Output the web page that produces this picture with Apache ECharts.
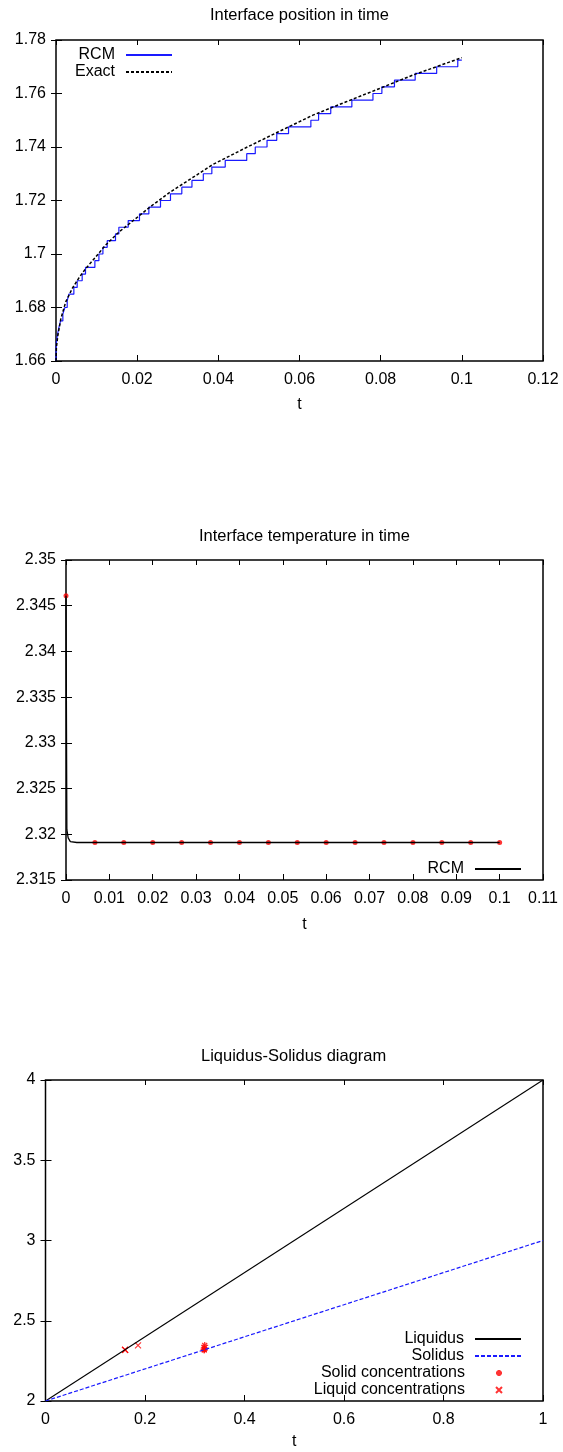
<!DOCTYPE html>
<html>
<head>
<meta charset="utf-8">
<title>Interface position, temperature and Liquidus-Solidus diagram</title>
<script src="https://cdn.jsdelivr.net/npm/echarts@6/dist/echarts.min.js"></script>
<style>
  html, body { margin: 0; padding: 0; background: #fff; }
  .chart { width: 563px; height: 484px; }
</style>
</head>
<body>
<div id="posChart" class="chart"></div>
<div id="tempChart" class="chart"></div>
<div id="phaseChart" class="chart"></div>
<script>
// chart 1: interface position (RCM staircase + exact curve)
const rcmT = [0, 0.00003, 0.00005, 0.00013, 0.00038, 0.00071, 0.00112, 0.00169, 0.00218, 0.00276,
  0.00317, 0.0044, 0.00522, 0.00645, 0.00727, 0.00958, 0.01057, 0.01156, 0.01262, 0.01466,
  0.01549, 0.01779, 0.02057, 0.02288, 0.02575, 0.02821, 0.0310, 0.0335, 0.0363, 0.0384,
  0.0417, 0.0470, 0.0491, 0.0520, 0.0544, 0.0573, 0.0628, 0.0647, 0.0677, 0.0729,
  0.0781, 0.0803, 0.0834, 0.0885, 0.0938, 0.0990, 0.1]
const rcmPos = [1.66, 1.6625, 1.665, 1.6675, 1.67, 1.6725, 1.675, 1.6775, 1.68, 1.6825,
  1.685, 1.6875, 1.69, 1.6925, 1.695, 1.6975, 1.70, 1.7025, 1.705, 1.7075,
  1.71, 1.7125, 1.715, 1.7175, 1.72, 1.7225, 1.725, 1.7275, 1.73, 1.7325,
  1.735, 1.7375, 1.74, 1.7425, 1.745, 1.7475, 1.75, 1.7525, 1.755, 1.7575,
  1.76, 1.7625, 1.765, 1.7675, 1.77, 1.7725, 1.7725]
const exactT = [0, 0.0001, 0.0004, 0.0012, 0.0024, 0.004, 0.0057, 0.0073, 0.0098, 0.0122,
  0.0155, 0.0196, 0.0237, 0.0282, 0.0387, 0.0469, 0.0547, 0.0633, 0.0715, 0.0796, 0.0878, 0.1]
const exactPos = [1.66, 1.665, 1.669, 1.6758, 1.6821, 1.6871, 1.6912, 1.6945, 1.6989, 1.7033,
  1.7082, 1.7132, 1.7182, 1.7232, 1.7335, 1.7398, 1.7456, 1.7519, 1.7569, 1.7618, 1.7668, 1.7734]

// chart 2: interface temperature
const tempLineT = [0, 0.0002, 0.0005, 0.001, 0.0025, 0.1]
const tempLine = [2.3461, 2.3205, 2.3196, 2.3192, 2.3191, 2.3191]
const dotT = [0, 0.00667, 0.01333, 0.02, 0.02667, 0.03333, 0.04, 0.04667,
  0.05333, 0.06, 0.06667, 0.07333, 0.08, 0.08667, 0.09333, 0.1]
const dotTemp = [2.3461, 2.3191, 2.3191, 2.3191, 2.3191, 2.3191, 2.3191, 2.3191,
  2.3191, 2.3191, 2.3191, 2.3191, 2.3191, 2.3191, 2.3191, 2.3191]

// chart 3: liquidus-solidus diagram
const liquidusX = [0, 1]
const liquidusY = [2, 4]
const solidusX = [0, 1]
const solidusY = [2, 3]
const solidConcX = [0.319, 0.319, 0.319, 0.320]
const solidConcY = [2.3191, 2.3191, 2.33, 2.3461]
const liquidConcX = [0.160, 0.160, 0.160, 0.186]
const liquidConcY = [2.3191, 2.3191, 2.3191, 2.3461]

const FONT = 'Liberation Sans'
const ASTERISK = 'path://M5,0L5,10M0,5L10,5M1.5,1.5L8.5,8.5M8.5,1.5L1.5,8.5'
const CROSS = 'path://M0,0L10,10M10,0L0,10'

const pairs = (xs, ys) => xs.map((x, i) => [x, ys[i]])

const valueAxis = (min, max, interval, margin) => ({
  type: 'value',
  min, max, interval,
  splitLine: { show: false },
  axisLine: { show: false },
  axisTick: { inside: true, length: 6, lineStyle: { color: '#000', width: 1 } },
  axisLabel: { color: '#000', fontSize: 16, fontFamily: FONT, margin }
})

const mirrorAxis = (axis, position) => ({
  ...axis,
  position,
  name: '',
  axisLabel: { show: false },
  axisTick: { ...axis.axisTick, length: 5 }
})

const buildAxes = (x, y, nameGap) => {
  const xBottom = {
    ...valueAxis(x[0], x[1], x[2], 11),
    position: 'bottom',
    name: 't',
    nameLocation: 'middle',
    nameGap,
    nameTextStyle: { color: '#000', fontSize: 16, fontFamily: FONT }
  }
  const yLeft = { ...valueAxis(y[0], y[1], y[2], 10), position: 'left' }
  return {
    xAxis: [xBottom, mirrorAxis(xBottom, 'top')],
    yAxis: [yLeft, mirrorAxis(yLeft, 'right')]
  }
}

const gridBox = (left, top, width, height) => ({
  left, top, width, height,
  show: true,
  borderColor: '#000',
  borderWidth: 1.5,
  backgroundColor: 'transparent',
  outerBoundsMode: 'none'
})

const titleBox = (text, left, top) => ({
  text, left, top,
  padding: 0,
  textStyle: { color: '#000', fontSize: 16.5, fontWeight: 'normal', fontFamily: FONT }
})

// one legend per row so the keys line up on the right like gnuplot's
const legendRow = (name, right, top, opts = {}) => ({
  data: [name],
  right, top,
  orient: 'horizontal',
  align: 'right',
  padding: 0,
  itemWidth: opts.itemWidth || 46,
  itemHeight: opts.itemHeight || 16,
  selectedMode: false,
  textStyle: {
    color: '#000', fontSize: 16, fontFamily: FONT, lineHeight: 16,
    padding: [0, opts.gap || 6, 0, 0]
  }
})

const noSymbol = { color: 'transparent', borderColor: 'transparent' }

const posChart = echarts.init(document.getElementById('posChart'))
posChart.setOption({
  animation: false,
  title: titleBox('Interface position in time', 210, 7),
  grid: gridBox(56, 40, 487, 321),
  ...buildAxes([0, 0.12, 0.02], [1.66, 1.78, 0.02], 36),
  legend: [
    legendRow('RCM', 390, 47),
    legendRow('Exact', 390, 64)
  ],
  series: [
    {
      name: 'RCM',
      type: 'line',
      step: 'end',
      symbol: 'none',
      data: pairs(rcmT, rcmPos),
      itemStyle: noSymbol,
      lineStyle: { color: '#1a1aff', width: 1.2 }
    },
    {
      name: 'Exact',
      type: 'line',
      symbol: 'none',
      data: pairs(exactT, exactPos),
      itemStyle: noSymbol,
      lineStyle: { color: '#000', width: 1.5, type: [3, 2] }
    }
  ]
})

const tempChart = echarts.init(document.getElementById('tempChart'))
tempChart.setOption({
  animation: false,
  title: titleBox('Interface temperature in time', 199, 44),
  grid: gridBox(66, 76, 477, 320),
  ...buildAxes([0, 0.11, 0.01], [2.315, 2.35, 0.005], 37),
  legend: [legendRow('RCM', 41, 377)],
  series: [
    {
      name: 'RCM',
      type: 'line',
      symbol: 'none',
      data: pairs(tempLineT, tempLine),
      itemStyle: noSymbol,
      lineStyle: { color: '#000', width: 1.3 }
    },
    {
      name: 'points',
      type: 'scatter',
      clip: false,
      symbol: 'circle',
      symbolSize: 5,
      data: pairs(dotT, dotTemp),
      itemStyle: { color: '#ff0000' }
    }
  ]
})

const phaseChart = echarts.init(document.getElementById('phaseChart'))
phaseChart.setOption({
  animation: false,
  title: titleBox('Liquidus-Solidus diagram', 201, 80),
  grid: gridBox(45.5, 112, 497.5, 321),
  ...buildAxes([0, 1, 0.2], [2, 4, 0.5], 33),
  legend: [
    legendRow('Liquidus', 41, 363),
    legendRow('Solidus', 41, 380),
    legendRow('Solid concentrations', 60, 397, { itemWidth: 6, itemHeight: 6, gap: 26 }),
    legendRow('Liquid concentrations', 60, 414, { itemWidth: 6, itemHeight: 6, gap: 26 })
  ],
  series: [
    {
      name: 'Liquidus',
      type: 'line',
      symbol: 'none',
      data: pairs(liquidusX, liquidusY),
      itemStyle: noSymbol,
      lineStyle: { color: '#000', width: 1.1 }
    },
    {
      name: 'Solidus',
      type: 'line',
      symbol: 'none',
      data: pairs(solidusX, solidusY),
      itemStyle: noSymbol,
      lineStyle: { color: '#1a1aff', width: 1.2, type: [4, 2] }
    },
    {
      name: 'Solid concentrations',
      type: 'scatter',
      symbol: ASTERISK,
      symbolSize: 7,
      data: pairs(solidConcX, solidConcY),
      itemStyle: { color: '#ff0000', borderColor: '#ff0000', borderWidth: 1.3 }
    },
    {
      name: 'Liquid concentrations',
      type: 'scatter',
      symbol: CROSS,
      symbolSize: 6,
      data: pairs(liquidConcX, liquidConcY),
      itemStyle: { color: '#ff0000', borderColor: '#ff0000', borderWidth: 1.1 }
    }
  ]
})

window.addEventListener('resize', () => {
  posChart.resize()
  tempChart.resize()
  phaseChart.resize()
})
</script>
</body>
</html>
